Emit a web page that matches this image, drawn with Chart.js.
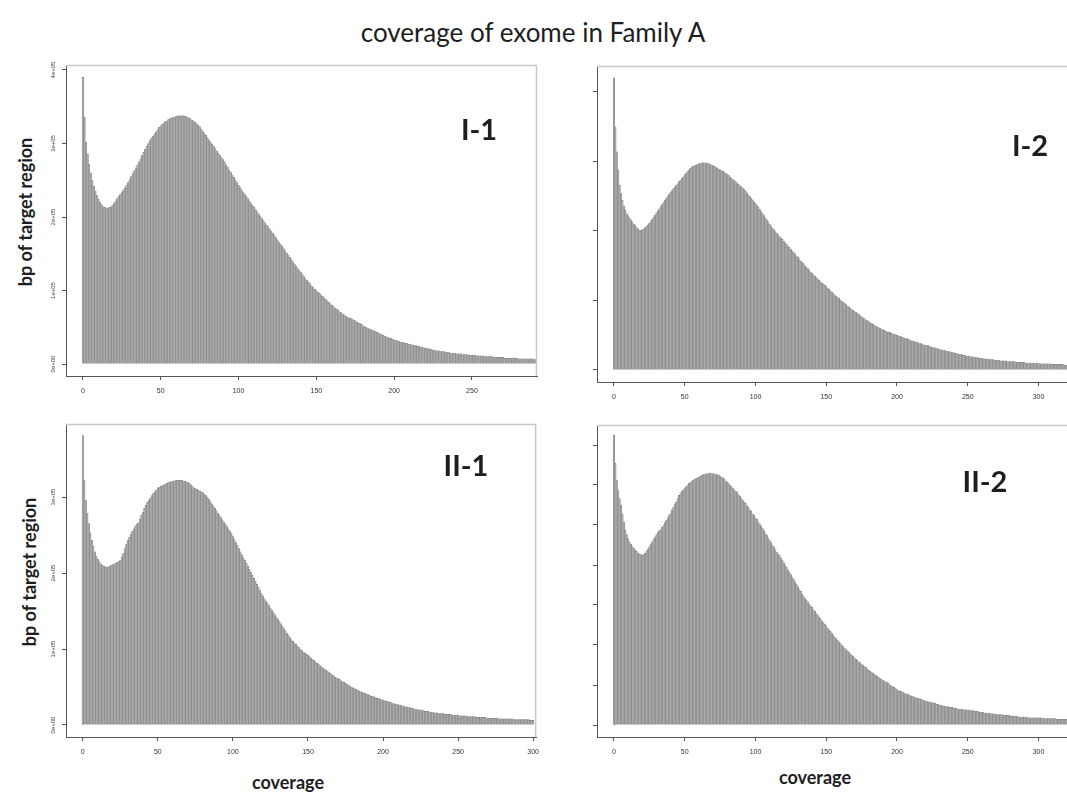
<!DOCTYPE html>
<html>
<head>
<meta charset="utf-8">
<script src="https://cdn.jsdelivr.net/npm/chart.js@4.4.1/dist/chart.umd.min.js"></script>
<style>
  body { margin: 0; width: 1067px; height: 794px; overflow: hidden; background: #fff; font-family: Lato, "Open Sans", sans-serif; color: #1e1e1e; }
  .panel { position: absolute; }
  .c { position: absolute; white-space: nowrap; line-height: 1; transform: translate(-50%, -50%); }
  .rot { transform: translate(-50%, -50%) rotate(-90deg); }
  .ax { font-size: 18px; font-weight: 700; }
  .tag { font-size: 29px; font-weight: 700; }
</style>
</head>
<body>
<div class="c" style="left:533px;top:32px;font-size:26px">coverage of exome in Family A</div>
<div class="c rot ax" style="left:25px;top:212px">bp of target region</div>
<div class="c rot ax" style="left:29px;top:572px">bp of target region</div>
<div class="c ax" style="left:288px;top:782px">coverage</div>
<div class="c ax" style="left:815px;top:777px">coverage</div>

<div class="panel" id="pI1"></div>
<div class="panel" id="pI2"></div>
<div class="panel" id="pII1"></div>
<div class="panel" id="pII2"></div>

<div class="c tag" style="left:479px;top:128px">I-1</div>
<div class="c tag" style="left:1030px;top:144px">I-2</div>
<div class="c tag" style="left:466px;top:464px">II-1</div>
<div class="c tag" style="left:985px;top:480px">II-2</div>

<script>
// bp of target region (thousands) per coverage value 0, 1, 2, ...
const depthI1 = [
  390,336,302,286,272,260,250,242,235,229,224,220,217,214,213,212,212,213,214,216,
  219,222,225,228,231,234,237,240,243,247,251,255,259,263,267,271,275,279,284,288,
  292,296,300,304,307,310,313,316,319,322,324,326,328,330,331,333,334,335,336,336,
  337,337,338,337,338,337,337,336,335,334,332,331,329,327,325,323,320,317,314,311,
  308,305,302,299,296,293,290,287,284,281,278,275,271,268,264,261,257,254,250,247,
  243,240,237,234,231,228,225,222,219,216,213,210,207,204,201,198,195,192,189,187,
  184,181,178,175,172,169,166,163,160,157,154,151,148,145,142,139,136,133,130,127,
  125,122,119,116,114,111,109,106,104,102,100,98,96,94,92,90,88,86,84,82,
  80,78,76,75,73,71,70,68,67,65,64,63,62,61,60,59,57,56,55,54,
  52,51,50,49,48,47,46,45,44,43,42,41,40,39,38,37,36,35,35,34,
  33,32,32,31,30,30,29,28,28,27,27,26,26,25,25,24,24,23,23,22,
  22,21,21,20,20,19,19,18,18,18,17,17,17,16,16,16,15,15,15,15,
  14,14,14,14,13,13,13,13,12,12,12,12,12,11,11,11,11,11,10,10,
  10,10,10,10,9,9,9,9,9,9,9,8,8,8,8,8,8,8,8,8,
  7,7,7,7,7,7,7,7,7,7,6,6,6,6
];
const depthI2 = [
  420,350,314,288,266,254,244,236,230,225,222,219,
  216,213,210,208,205,203,201,201,202,203,205,207,209,211,
  214,217,220,223,226,229,232,235,238,241,244,247,250,253,256,
  258,261,263,266,268,271,273,276,278,281,283,286,288,290,
  292,293,294,295,296,297,297,298,298,298,298,297,297,296,295,294,293,292,290,
  289,288,287,286,284,283,281,280,278,276,274,273,271,269,267,265,264,262,
  260,257,255,252,250,247,245,242,240,237,234,231,228,225,222,219,216,213,210,207,204,
  202,199,197,195,192,190,188,185,183,181,178,176,174,171,169,167,164,162,160,157,
  155,153,150,148,146,144,141,139,137,135,133,131,129,127,125,124,122,120,
  118,116,114,112,110,108,106,104,103,101,99,97,96,94,92,91,89,87,86,84,
  83,81,80,78,77,75,74,72,71,70,68,67,66,64,63,62,61,60,59,58,
  57,56,55,54,54,53,52,51,51,50,
  49,48,48,47,46,45,45,44,43,42,42,41,40,40,39,38,38,37,36,36,
  35,35,34,33,33,32,32,31,30,30,29,29,28,28,27,27,26,26,25,25,
  24,24,23,23,22,22,21,21,20,20,
  20,19,19,19,18,18,18,17,17,17,16,16,16,16,15,15,15,15,14,14,
  14,14,13,13,13,13,13,12,12,12,12,12,12,11,11,11,11,11,11,11,
  10,10,10,10,10,10,10,10,10,10,
  9,9,9,9,9,9,9,9,8,8,8,8,8,8,8,8,8,7,7,7,7,7,7,7,7,7
];
const depthII1 = [
  381,322,296,279,265,253,243,235,228,222,218,215,212,210,209,208,
  208,208,209,210,211,212,213,214,215,217,221,226,232,238,
  243,247,251,255,258,262,264,266,271,276,280,285,289,293,
  296,299,302,305,307,309,312,313,314,315,316,317,318,319,320,
  320,321,321,322,322,322,322,322,321,321,320,319,318,316,314,
  312,311,310,309,308,307,306,304,302,300,297,294,291,288,285,282,279,
  276,273,270,267,264,261,258,255,252,248,244,240,236,232,228,224,220,
  217,213,209,205,201,197,193,189,185,181,177,173,170,166,
  163,160,157,154,151,148,145,142,139,136,133,130,127,124,121,118,115,112,
  110,108,106,104,102,100,98,96,95,93,92,
  90,88,86,85,83,81,80,78,77,75,74,72,71,69,68,66,65,63,62,61,
  60,58,57,56,55,54,53,51,50,49,48,47,46,45,44,43,42,42,41,40,
  39,38,38,37,36,35,35,34,33,33,
  32,31,31,30,30,29,28,28,27,27,26,26,25,25,24,24,23,23,22,22,
  21,21,20,20,20,19,19,18,18,18,17,17,17,16,16,16,15,15,15,15,
  14,14,14,14,14,13,13,13,13,13,
  12,12,12,12,12,11,11,11,11,11,11,10,10,10,10,10,10,10,9,9,
  9,9,9,9,9,9,8,8,8,8,8,8,8,8,8,8,7,7,7,7,
  7,7,7,7,7,7,7,6,6,6
];
const depthII2 = [
  362,327,306,293,283,275,264,254,244,238,233,229,226,223,
  221,219,217,215,214,213,212,213,215,217,220,223,
  226,229,232,235,238,241,243,244,247,250,253,256,259,262,265,
  269,272,276,279,283,287,290,292,294,296,298,300,302,303,305,306,
  307,308,309,310,311,312,313,313,314,314,315,315,315,314,314,313,313,312,311,310,309,
  307,305,304,302,300,298,296,294,292,291,288,286,284,281,279,277,274,272,269,
  267,264,262,259,257,254,251,249,246,243,240,237,234,231,228,225,222,219,216,214,212,
  209,206,203,200,197,194,191,188,185,182,179,176,173,170,167,164,161,158,156,
  154,151,149,147,144,142,140,137,135,133,130,128,126,124,121,119,117,115,112,110,108,106,
  104,102,100,98,96,94,93,91,89,87,86,84,82,81,79,78,76,75,73,72,
  70,69,67,66,65,63,62,61,60,58,57,56,55,54,53,52,50,49,48,47,46,44,
  43,42,42,41,40,39,39,38,37,36,36,35,34,34,33,33,32,31,31,30,
  30,29,29,28,28,27,27,26,26,25,25,24,24,23,23,23,22,22,22,21,
  21,21,20,20,20,20,19,19,19,19,
  18,18,18,18,17,17,17,16,16,16,16,15,15,15,15,14,14,14,14,13,
  13,13,13,13,12,12,12,12,12,11,11,11,11,11,11,10,10,10,10,10,
  10,10,9,9,9,9,9,9,9,9,
  9,9,8,8,8,8,8,8,8,8,8,8,7,7,7,7,7,7,7,7,7,7,7,7,7,7
];

const xTicksI1 = [0, 50, 100, 150, 200, 250];
const xTicksOther = [0, 50, 100, 150, 200, 250, 300];
const yTicksI1 = [0, 100, 200, 300, 400];
const yLabelsI1 = ['0e+00', '1e+05', '2e+05', '3e+05', '4e+05'];
const yTicksI2 = [0, 100, 200, 300, 400];
const yTicksII1 = [0, 100, 200, 300];
const yLabelsII1 = ['0e+00', '1e+05', '2e+05', '3e+05'];
const yTicksII2 = [0, 50, 100, 150, 200, 250, 300, 350];

const framePlugin = {
  id: 'frame',
  afterDraw(chart, args, opts) {
    const { ctx, chartArea: a } = chart;
    ctx.save();
    ctx.strokeStyle = '#c8c8c8';
    ctx.lineWidth = 1.5;
    ctx.beginPath();
    ctx.moveTo(a.left, a.top + 0.5);
    ctx.lineTo(a.right - 0.5, a.top + 0.5);
    ctx.lineTo(a.right - 0.5, a.bottom);
    ctx.stroke();
    if (opts.labels) {
      const y = chart.scales.y;
      ctx.fillStyle = '#444';
      ctx.font = '6px "Liberation Sans"';
      ctx.textAlign = 'center';
      ctx.textBaseline = 'middle';
      opts.ticks.forEach((v, i) => {
        ctx.save();
        ctx.translate(a.left - 13, y.getPixelForValue(v));
        ctx.rotate(-Math.PI / 2);
        ctx.fillText(opts.labels[i], 0, 0);
        ctx.restore();
      });
    }
    ctx.restore();
  }
};

function makePanel(id, values, p) {
  const padTop = 4, yW = 60, xH = 30;
  const host = document.getElementById(id);
  host.style.left = (p.box.l - yW) + 'px';
  host.style.top = (p.box.t - padTop) + 'px';
  host.style.width = (p.clipRight - p.box.l + yW) + 'px';
  host.style.height = (p.box.b - p.box.t + padTop + xH) + 'px';
  const canvas = document.createElement('canvas');
  host.appendChild(canvas);

  const axisLine = { display: true, color: '#555', width: 1 };
  const tickMarks = { display: true, offset: false, drawOnChartArea: false, drawTicks: true, tickLength: 4, color: '#555' };

  new Chart(canvas, {
    type: 'bar',
    data: {
      datasets: [{
        data: values.map((v, i) => ({ x: i, y: v })),
        backgroundColor: '#ababab',
        borderColor: '#7a7a7a',
        borderWidth: 0.4,
        borderSkipped: 'start',
        barPercentage: 1,
        categoryPercentage: 1
      }]
    },
    options: {
      responsive: true,
      maintainAspectRatio: false,
      animation: false,
      layout: { padding: { top: padTop, right: p.clipRight - p.box.r, left: 0, bottom: 0 } },
      plugins: {
        legend: { display: false },
        tooltip: { enabled: false },
        frame: { ticks: p.yTicks, labels: p.yLabels }
      },
      scales: {
        x: {
          type: 'linear',
          min: p.x[0], max: p.x[1],
          offset: false,
          afterBuildTicks: s => { s.ticks = p.xTicks.map(v => ({ value: v })); },
          afterFit: s => { s.height = xH; },
          border: axisLine,
          grid: tickMarks,
          ticks: { color: '#333', font: { size: 7, family: 'Liberation Sans' }, padding: 7, maxRotation: 0, autoSkip: false, callback: v => String(v) }
        },
        y: {
          type: 'linear',
          min: p.y[0], max: p.y[1],
          afterBuildTicks: s => { s.ticks = p.yTicks.map(v => ({ value: v })); },
          afterFit: s => { s.width = yW; },
          border: axisLine,
          grid: tickMarks,
          ticks: { display: false }
        }
      }
    },
    plugins: [framePlugin]
  });
}

makePanel('pI1', depthI1, {
  box: { l: 66, t: 65, r: 537, b: 376 }, clipRight: 541,
  x: [-10.9, 291.8], y: [-16.3, 406.8],
  xTicks: xTicksI1, yTicks: yTicksI1, yLabels: yLabelsI1
});
makePanel('pI2', depthI2, {
  box: { l: 597, t: 66, r: 1075, b: 382 }, clipRight: 1079,
  x: [-12.0, 325.8], y: [-17.3, 437.4],
  xTicks: xTicksOther, yTicks: yTicksI2, yLabels: null
});
makePanel('pII1', depthII1, {
  box: { l: 66, t: 424, r: 543, b: 737 }, clipRight: 546,
  x: [-11.2, 302.0], y: [-15.8, 396.1],
  xTicks: xTicksOther, yTicks: yTicksII1, yLabels: yLabelsII1
});
makePanel('pII2', depthII2, {
  box: { l: 597, t: 425, r: 1075, b: 737 }, clipRight: 1079,
  x: [-12.0, 325.8], y: [-15.0, 375.0],
  xTicks: xTicksOther, yTicks: yTicksII2, yLabels: null
});
</script>
</body>
</html>
